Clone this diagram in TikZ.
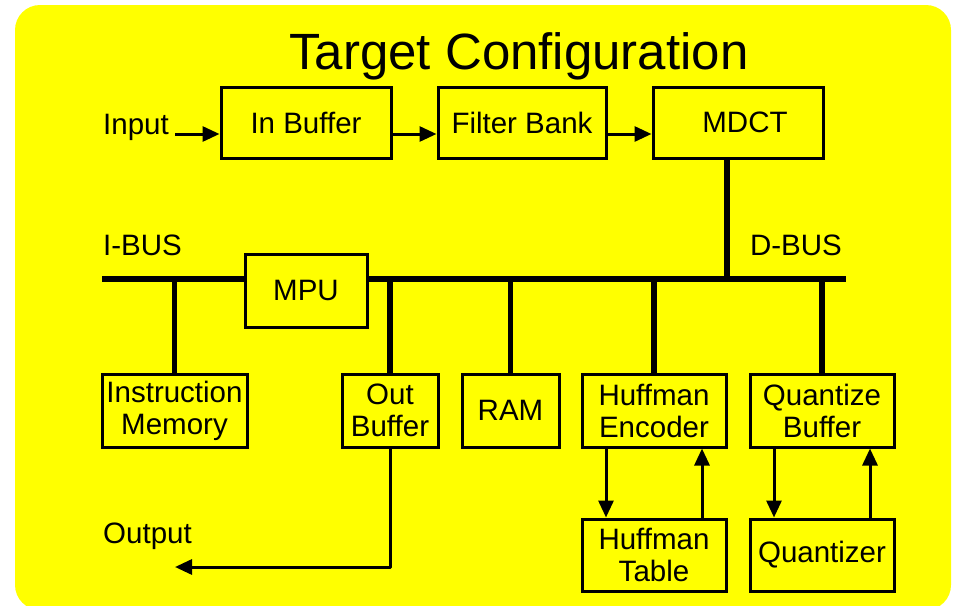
\documentclass[tikz,border=0pt]{standalone}
\usepackage{fontspec}
\setmainfont{Liberation Sans}
\usepackage{tikz}
\usetikzlibrary{arrows.meta,calc}
\definecolor{fond}{RGB}{255,255,0}
\newcommand{\txt}{\fontsize{29.5}{32}\selectfont}
\tikzset{
	blk/.style={draw=black, fill=fond, line width=3pt, align=center, inner sep=0pt, font=\txt},
	bus/.style={line width=5.5pt},
	arr/.style={line width=3pt, line join=round, -{Triangle[length=17pt,width=15pt]}},
	lbl/.style={inner sep=0pt, font=\txt}
}

\begin{document}
\begin{tikzpicture}[x=1pt,y=-1pt]
	\useasboundingbox (0,0) rectangle (953,605);
	\fill[fond, rounded corners=25pt] (15,5) rectangle (951,610);
	
	%Titre
	\node[anchor=base, inner sep=0pt, font=\fontsize{51}{56}\selectfont] (title) at (519,69) {Target Configuration};
	
	%Bus
	\coordinate (ibus) at (102,279);
	\coordinate (dbus) at (846,279);
	\draw[bus] (ibus) -- (dbus);
	\node[lbl, anchor=base west] (ibuslbl) at (103,255) {I-BUS};
	\node[lbl, anchor=base east] (dbuslbl) at (842,255) {D-BUS};
	
	%Chaine d'entree
	\node[lbl, anchor=base west] (input) at (103,134) {Input};
	\node[blk, minimum width=170, minimum height=71] (inbuf) at (306,122.5) {In Buffer};
	\node[blk, minimum width=168, minimum height=71] (filt) at (522,122.5) {Filter Bank};
	\node[blk, minimum width=170, minimum height=71] (mdct) at (738,122.5) {\hspace{14pt}MDCT};
	
	\draw[arr] ([xshift=6pt]input.base east) -- (inbuf.west |- input.base);
	\draw[arr] (inbuf.east |- input.base) -- (filt.west |- input.base);
	\draw[arr] (filt.east |- input.base) -- (mdct.west |- input.base);
	\draw[bus] ([xshift=-11pt]mdct.south) -- ([xshift=-11pt]mdct.south |- dbus);
	
	%Processeur
	\node[blk, minimum width=122, minimum height=73] (mpu) at (306,290.5) {MPU};
	
	%Blocs du bas
	\node[blk, minimum width=145, minimum height=73] (imem) at (174.5,410.5) {Instruction\\Memory};
	\node[blk, minimum width=96, minimum height=73] (outbuf) at (390,410.5) {Out\\Buffer};
	\node[blk, minimum width=97, minimum height=73] (ram) at (510.5,410.5) {RAM};
	\node[blk, minimum width=144, minimum height=73] (huffenc) at (654,410.5) {Huffman\\Encoder};
	\node[blk, minimum width=144, minimum height=73] (quantbuf) at (822,410.5) {Quantize\\Buffer};
	\node[blk, minimum width=144, minimum height=72] (hufftab) at (654,555) {Huffman\\Table};
	\node[blk, minimum width=144, minimum height=72] (quant) at (822,555) {Quantizer};
	
	\foreach \b in {imem,outbuf,ram,huffenc,quantbuf}{
		\draw[bus] (\b.north) -- (\b.north |- ibus);
	}
	
	%Fleches
	\draw[arr] ([xshift=-48pt]huffenc.south) -- ([xshift=-48pt]hufftab.north);
	\draw[arr] ([xshift=48pt]hufftab.north) -- ([xshift=48pt]huffenc.south);
	\draw[arr] ([xshift=-48pt]quantbuf.south) -- ([xshift=-48pt]quant.north);
	\draw[arr] ([xshift=48pt]quant.north) -- ([xshift=48pt]quantbuf.south);
	
	%Sortie
	\coordinate (outend) at (175,567);
	\node[lbl, anchor=base west] (output) at (103,543) {Output};
	\draw[arr] (outbuf.south) |- (outend);
\end{tikzpicture}
\end{document}
